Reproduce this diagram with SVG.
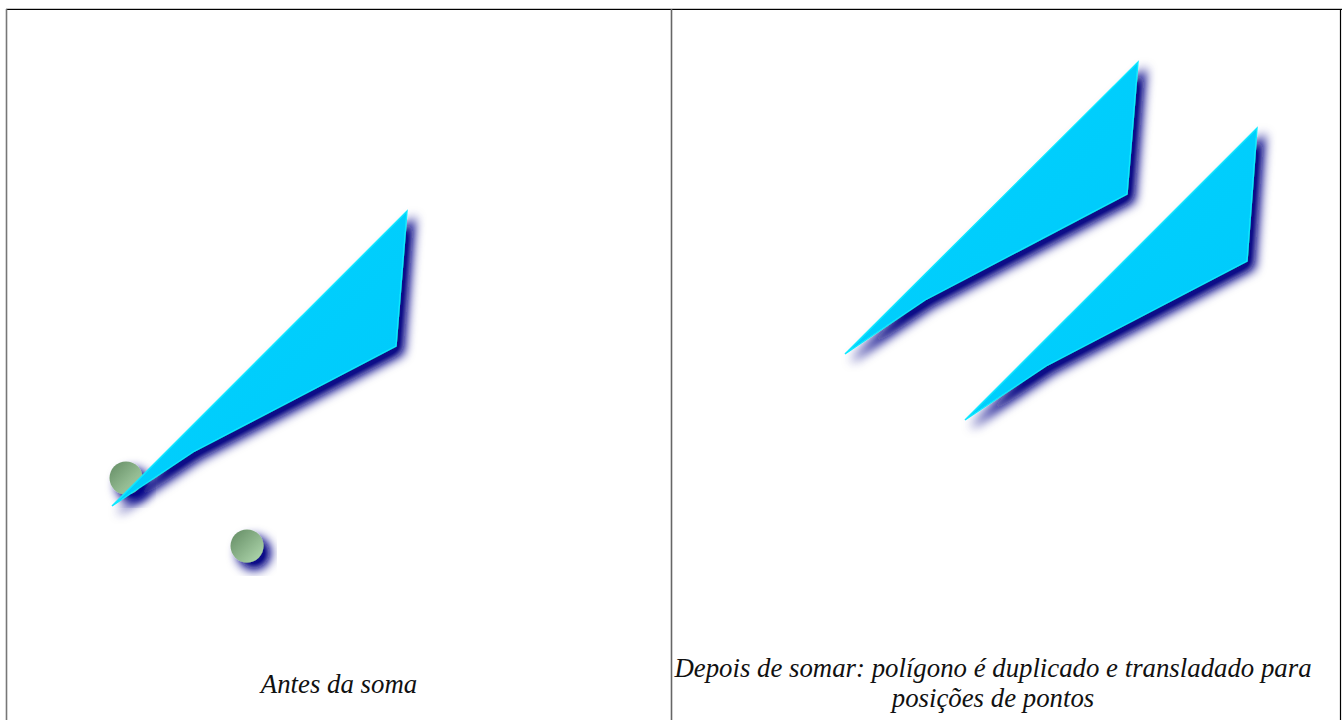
<svg xmlns="http://www.w3.org/2000/svg" width="1342" height="720" viewBox="0 0 1342 720">
  <style>
    .cap { font-family: "Liberation Serif", "Times New Roman", serif; font-style: italic; font-size: 26.8px; fill: #111; text-anchor: middle; }
    .poly { fill: url(#cyanGrad); stroke: #10e8ff; stroke-width: 1.4; stroke-linejoin: miter; filter: url(#shadow); }
    .dot { fill: url(#greenGrad); filter: url(#shadow); }
  </style>
  <defs>
    <filter id="shadow" x="-40%" y="-40%" width="180%" height="180%">
      <feGaussianBlur in="SourceAlpha" stdDeviation="5.5" result="b"/>
      <feOffset in="b" dx="7" dy="7" result="o"/>
      <feComponentTransfer in="o" result="o2">
        <feFuncA type="linear" slope="1.2"/>
      </feComponentTransfer>
      <feFlood flood-color="#0a0a88" flood-opacity="1" result="c"/>
      <feComposite in="c" in2="o2" operator="in" result="s"/>
      <feMerge>
        <feMergeNode in="s"/>
        <feMergeNode in="SourceGraphic"/>
      </feMerge>
    </filter>
    <linearGradient id="cyanGrad" x1="0" y1="0" x2="1" y2="1">
      <stop offset="0" stop-color="#00d4ff"/>
      <stop offset="1" stop-color="#00c8fa"/>
    </linearGradient>
    <linearGradient id="greenGrad" x1="0" y1="0" x2="1" y2="1">
      <stop offset="0" stop-color="#628a62"/>
      <stop offset="1" stop-color="#b4dcb2"/>
    </linearGradient>
  </defs>

  <g id="table">
    <line x1="6" y1="8.5" x2="1342" y2="8.5" stroke="#c8c8c8" stroke-width="1"/>
    <line x1="6" y1="9.5" x2="1342" y2="9.5" stroke="#000" stroke-width="1.2"/>
    <line x1="6.5" y1="9" x2="6.5" y2="720" stroke="#777" stroke-width="1.6"/>
    <line x1="671.5" y1="9" x2="671.5" y2="720" stroke="#666" stroke-width="1.6"/>
    <line x1="1340.5" y1="9" x2="1340.5" y2="720" stroke="#000" stroke-width="1.2"/>
  </g>

  <g id="before">
    <circle id="point1" class="dot" cx="126" cy="478" r="16.5"/>
    <circle id="point2" class="dot" cx="247" cy="546" r="16.5"/>
    <polygon id="polygon-original" class="poly" points="112,506 407,211 396,346 193,452"/>
    <text id="caption-left" class="cap" x="339" y="693">Antes da soma</text>
  </g>

  <g id="after">
    <polygon id="polygon-copy1" class="poly" points="845,354 1138,62 1127,194 925,300"/>
    <polygon id="polygon-copy2" class="poly" points="965,420 1257,128 1247,261 1046,366"/>
    <text id="caption-right" class="cap" x="993" y="677">Depois de somar: polígono é duplicado e transladado para</text>
    <text id="caption-right-2" class="cap" x="993" y="707">posições de pontos</text>
  </g>
</svg>
